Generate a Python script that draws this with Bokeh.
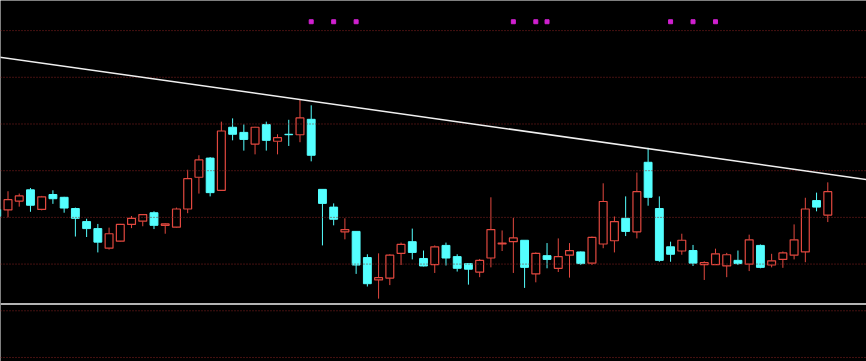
from bokeh.plotting import figure
from bokeh.models import Range1d, Span, Slope, ColumnDataSource
from bokeh.embed import file_html
from bokeh.resources import INLINE

# OHLC data
opens = [12.17, 12.16, 12.35, 12.59, 12.17, 12.49, 12.43, 12.19, 11.91, 11.76,
         11.34, 11.49, 11.85, 11.92, 12.10, 11.83, 11.79, 12.18, 12.86, 13.27,
         12.58, 13.93, 13.82, 13.57, 13.99, 13.63, 13.78, 13.77, 14.10, 12.60,
         12.22, 11.69, 11.70, 11.14, 10.66, 10.70, 11.23, 11.48, 11.12, 10.99,
         11.40, 11.16, 11.01, 10.83, 11.13, 11.43, 11.48, 11.51, 10.79, 11.18,
         10.91, 11.19, 11.26, 11.02, 11.43, 11.50, 11.98, 11.69, 13.18, 12.19,
         11.37, 11.28, 11.29, 10.99, 10.99, 10.96, 11.08, 11.00, 11.40, 10.98,
         11.10, 11.19, 11.26, 12.36, 12.05]
highs = [12.21, 12.56, 12.51, 12.63, 12.46, 12.58, 12.44, 12.21, 11.97, 11.86,
         11.78, 11.86, 12.03, 12.06, 12.13, 11.87, 12.21, 13.02, 13.33, 13.29,
         14.05, 14.12, 13.99, 13.94, 14.05, 13.78, 14.09, 14.52, 14.40, 12.60,
         12.30, 11.98, 11.70, 11.21, 11.23, 11.21, 11.46, 11.76, 11.29, 11.40,
         11.46, 11.21, 11.02, 11.11, 12.43, 11.72, 11.99, 11.51, 11.25, 11.45,
         11.55, 11.45, 11.27, 11.59, 12.73, 12.02, 12.45, 12.96, 13.49, 12.45,
         11.48, 11.65, 11.41, 11.06, 11.33, 11.24, 11.29, 11.63, 11.42, 11.22,
         11.27, 11.85, 12.42, 12.53, 12.75]
lows = [11.96, 12.00, 12.23, 12.12, 12.15, 12.29, 12.10, 11.59, 11.58, 11.25,
        11.31, 11.48, 11.77, 11.81, 11.75, 11.65, 11.78, 12.09, 12.51, 12.45,
        12.57, 13.65, 13.43, 13.35, 13.43, 13.35, 13.53, 13.61, 13.20, 11.40,
        11.83, 11.53, 10.79, 10.52, 10.26, 10.55, 10.98, 11.10, 10.95, 10.81,
        10.97, 10.84, 10.56, 10.72, 10.93, 11.28, 10.81, 10.49, 10.61, 10.91,
        10.83, 10.71, 10.98, 10.98, 11.34, 11.25, 11.60, 11.55, 12.25, 11.05,
        11.05, 11.20, 10.96, 10.66, 10.98, 10.72, 10.98, 10.85, 10.91, 10.93,
        10.92, 11.10, 11.04, 12.13, 11.90]
closes = [12.02, 12.38, 12.46, 12.26, 12.44, 12.40, 12.20, 11.98, 11.76, 11.47,
          11.65, 11.85, 11.98, 12.06, 11.83, 11.86, 12.18, 12.83, 13.23, 12.53,
          13.85, 13.78, 13.67, 13.93, 13.65, 13.71, 13.77, 14.13, 13.33, 12.30,
          11.96, 11.74, 10.98, 10.58, 10.71, 11.19, 11.42, 11.25, 10.96, 11.37,
          11.13, 10.91, 10.89, 11.08, 11.74, 11.45, 11.56, 10.93, 11.23, 11.10,
          11.16, 11.29, 11.01, 11.57, 12.34, 11.91, 11.70, 12.55, 12.43, 11.08,
          11.21, 11.51, 11.02, 11.03, 11.22, 11.20, 11.01, 11.52, 10.93, 11.07,
          11.24, 11.52, 12.18, 12.22, 12.55]

# signal markers (bar index) shown at the top of the chart
signal_idx = [28, 30, 32, 46, 48, 49, 60, 62, 64]
signal_level = 16.19

# reference lines
grid_levels = [9, 10, 11, 12, 13, 14, 15, 16]
support_level = 10.146
trend_gradient = -0.03395
trend_intercept = 15.441

UP = "#e2483f"
DOWN = "#54ffff"

n = len(opens)
idx = list(range(n))
top = [max(o, c) for o, c in zip(opens, closes)]
bot = [min(o, c) for o, c in zip(opens, closes)]
up = [c >= o for o, c in zip(opens, closes)]

def sub(mask):
    return dict(
        x=[i for i in idx if mask[i]],
        h=[highs[i] for i in idx if mask[i]],
        l=[lows[i] for i in idx if mask[i]],
        t=[top[i] for i in idx if mask[i]],
        b=[bot[i] for i in idx if mask[i]],
    )

up_src = ColumnDataSource(sub(up))
dn_src = ColumnDataSource(sub([not u for u in up]))

p = figure(width=866, height=361, output_backend="svg", toolbar_location=None,
           x_range=Range1d(0.332, 77.447), y_range=Range1d(8.914, 16.6445),
           min_border=0, min_border_left=0, min_border_right=0,
           min_border_top=0, min_border_bottom=0)
p.axis.visible = False
p.grid.visible = False
p.outline_line_color = None
p.background_fill_color = "#000000"
p.border_fill_color = "#000000"

for g in grid_levels:
    p.add_layout(Span(location=g, dimension="width", line_color="#8a2222",
                      line_width=1, line_dash="1 2"))

p.add_layout(Span(location=support_level, dimension="width",
                  line_color="#b4b4b4", line_width=2))

p.add_layout(Slope(gradient=trend_gradient, y_intercept=trend_intercept,
                   line_color="#f0f0f0", line_width=1.5))

# wicks
for src, col in ((up_src, UP), (dn_src, DOWN)):
    p.segment(x0="x", x1="x", y0="h", y1="t", source=src, line_color=col, line_width=1)
    p.segment(x0="x", x1="x", y0="b", y1="l", source=src, line_color=col, line_width=1)

p.vbar(x="x", width=0.7, top="t", bottom="b", source=up_src,
       fill_color="#000000", line_color=UP, line_width=1.2)
p.vbar(x="x", width=0.7, top="t", bottom="b", source=dn_src,
       fill_color=DOWN, line_color=DOWN, line_width=1)

p.scatter(x=signal_idx, y=[signal_level] * len(signal_idx), marker="square",
          size=4, fill_color="#d020d0", line_color="#d020d0")

open("out.html", "w").write(file_html(p, INLINE))
